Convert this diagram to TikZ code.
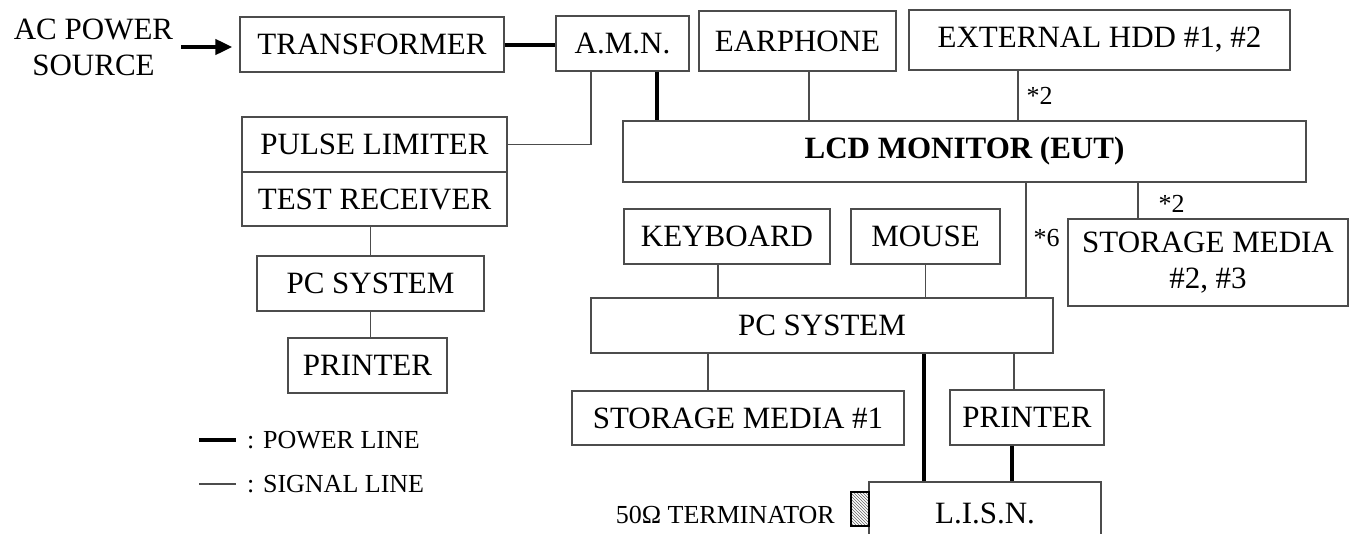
\documentclass[tikz,border=0pt]{standalone}
\usepackage{fontspec}
\setmainfont{Liberation Serif}
\usetikzlibrary{arrows.meta,positioning,patterns}

\begin{document}
\begin{tikzpicture}[x=1pt,y=-1pt,font=\fontsize{31}{36}\selectfont,
  box/.style={draw=black!70,line width=1.2pt,minimum height=55pt,inner sep=0pt,align=center},
  sg/.style={draw=black!70,line width=1.2pt},
  pw/.style={draw=black,line width=4pt},
  lbl/.style={font=\fontsize{26}{30}\selectfont,inner sep=0pt},
  term/.style={draw=black,line width=1.5pt,pattern=north west lines,pattern color=black!60,minimum width=18pt,minimum height=34pt,inner sep=0pt}]
\useasboundingbox (0,0) rectangle (1356,533);
\node[align=center,inner sep=0pt] (src) at (93.5,47) {AC POWER\\SOURCE};
\node[box,minimum width=264] (tr) at (372,44.5) {TRANSFORMER};
\node[box,minimum width=133] (amn) at (622.5,43.5) {A.M.N.};
\node[box,minimum width=197,minimum height=60] (ear) at (797.5,41) {EARPHONE};
\node[box,minimum width=381,minimum height=60] (hdd) at (1099.5,40) {EXTERNAL HDD \#1, \#2};
\node[box,minimum width=683,minimum height=61] (lcd) at (964.5,151.5) {\textbf{LCD MONITOR (EUT)}};
\node[box,minimum width=265] (pl) at (374.5,144.5) {PULSE LIMITER};
\node[box,minimum width=265,minimum height=54] (trc) at (374.5,199) {TEST RECEIVER};
\node[box,minimum width=227] (pcl) at (370.5,283.5) {PC SYSTEM};
\node[box,minimum width=159] (prl) at (367.5,365.5) {PRINTER};
\node[box,minimum width=206] (kb) at (727,236.5) {KEYBOARD};
\node[box,minimum width=149] (ms) at (925.5,236.5) {MOUSE};
\node[box,minimum width=462] (pc) at (822,325.5) {PC SYSTEM};
\node[box,minimum width=280,minimum height=87] (sm23) at (1208,262.5) {STORAGE MEDIA\\\#2, \#3};
\node[box,minimum width=332,minimum height=54] (sm1) at (738,418) {STORAGE MEDIA \#1};
\node[box,minimum width=154] (prr) at (1027,417.5) {PRINTER};
\node[box,minimum width=232,minimum height=62] (lisn) at (985,513) {L.I.S.N.};
\node[term] (tm) at (860,509) {};
\node[lbl,anchor=east] (tml) at (835,515) {50Ω TERMINATOR};
\node[lbl,anchor=west] (pwl) at (247,440) {: POWER LINE};
\node[lbl,anchor=west] (sgl) at (247,484) {: SIGNAL LINE};

\draw[pw,-{Triangle[length=17pt,width=15pt]},shorten <=8pt,shorten >=7pt] (src.east) -- (src.east -| tr.west);
\draw[pw] (tr.east) -- (tr.east -| amn.west);
\coordinate (a1) at ([xshift=34.5pt]amn.south);
\coordinate (a2) at ([xshift=-31.5pt]amn.south);
\draw[pw] (a1) -- (a1 |- lcd.north);
\draw[sg] (a2) |- (pl.east);
\coordinate (e1) at ([xshift=11.5pt]ear.south);
\draw[sg] (e1) -- (e1 |- lcd.north);
\coordinate (h1) at ([xshift=-81.5pt]hdd.south);
\draw[sg] (h1) -- (h1 |- lcd.north) node[lbl,midway,right=8pt] {*2};
\coordinate (l1) at ([xshift=61.5pt]lcd.south);
\draw[sg] (l1) -- (l1 |- pc.north) node[lbl,pos=0.48,right=7pt] {*6};
\coordinate (l2) at ([xshift=173.5pt]lcd.south);
\draw[sg] (l2) -- (l2 |- sm23.north) node[lbl,pos=0.6,right=20pt] {*2};
\draw[sg] (pcl.north) -- (pcl.north |- trc.south);
\draw[sg] (pcl.south) -- (pcl.south |- prl.north);
\coordinate (k1) at ([xshift=-9pt]kb.south);
\draw[sg] (k1) -- (k1 |- pc.north);
\draw[sg] (ms.south) -- (ms.south |- pc.north);
\coordinate (s1) at ([xshift=-30pt]sm1.north);
\draw[sg] (s1) -- (s1 |- pc.south);
\coordinate (p1) at ([xshift=-61pt]lisn.north);
\draw[pw] (p1) -- (p1 |- pc.south);
\coordinate (p2) at ([xshift=-13pt]prr.north);
\draw[sg] (p2) -- (p2 |- pc.south);
\coordinate (p3) at ([xshift=-15pt]prr.south);
\draw[pw] (p3) -- (p3 |- lisn.north);
\coordinate (pw0) at ([xshift=-48pt]pwl.west);
\draw[pw,shorten >=11pt] (pw0) -- (pwl.west);
\coordinate (sg0) at ([xshift=-48pt]sgl.west);
\draw[sg,shorten >=11pt] (sg0) -- (sgl.west);
\end{tikzpicture}
\end{document}
